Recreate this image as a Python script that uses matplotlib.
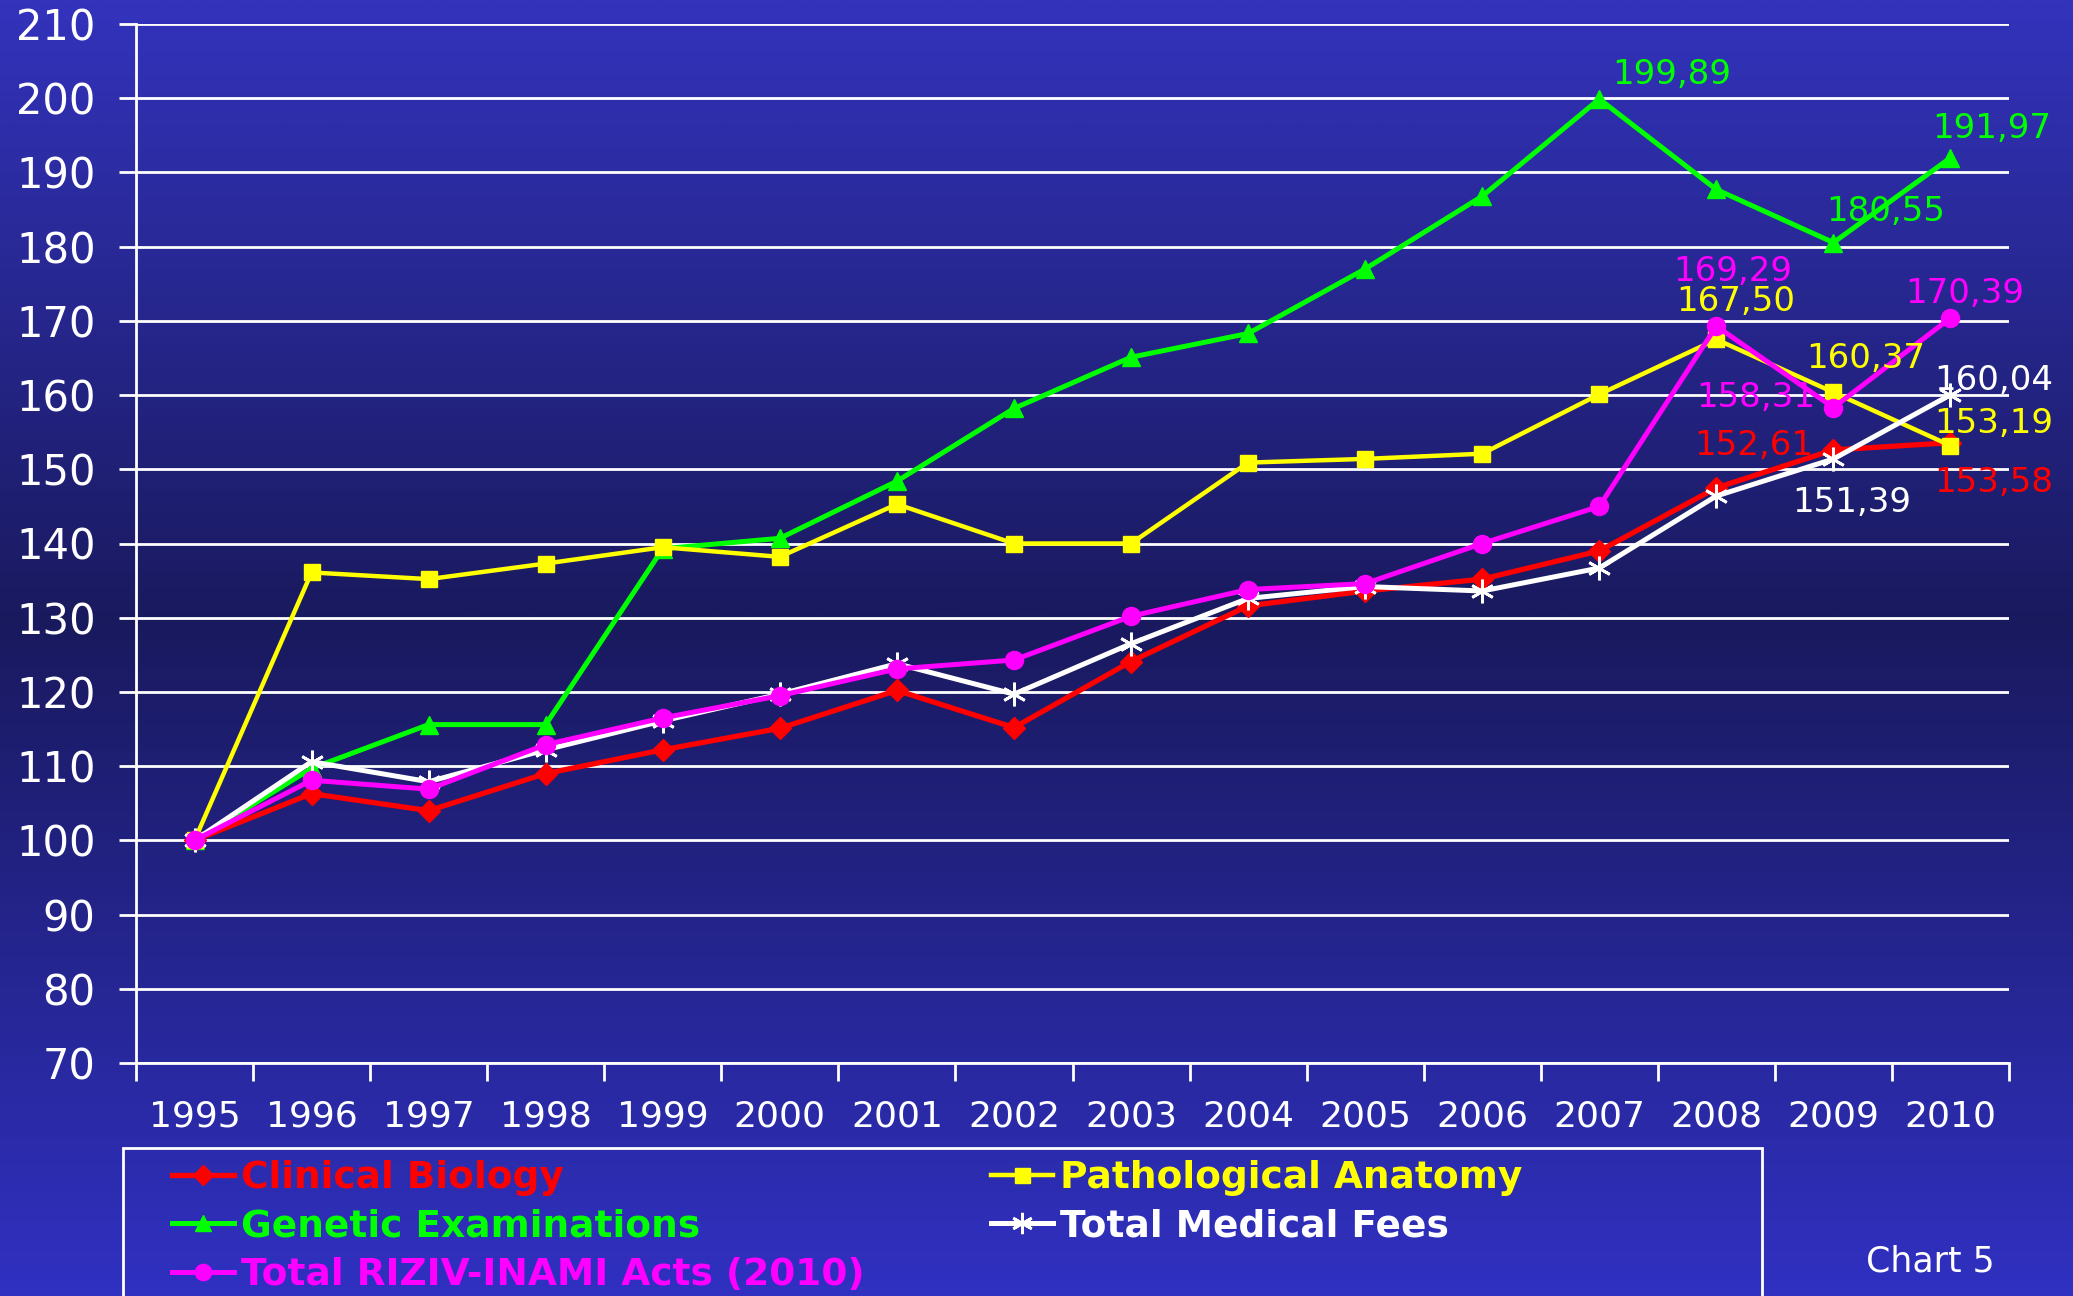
import numpy as np
import matplotlib
matplotlib.use("Agg")
import matplotlib.pyplot as plt
from matplotlib.colors import LinearSegmentedColormap
from matplotlib.patches import Rectangle

# data (index, 1995 = 100)
years = [str(y) for y in range(1995, 2011)]
clinical_biology = [100, 106.3, 104.0, 109.0, 112.2, 115.1, 120.2, 115.2, 124.1, 131.6,
                    133.6, 135.2, 139.0, 147.5, 152.61, 153.58]
pathological_anatomy = [100, 136.1, 135.2, 137.3, 139.5, 138.2, 145.3, 140.0, 140.0, 150.9,
                        151.4, 152.1, 160.1, 167.50, 160.37, 153.19]
genetic_exams = [100, 109.7, 115.6, 115.6, 139.3, 140.7, 148.4, 158.2, 165.1, 168.3,
                 177.0, 186.8, 199.89, 187.7, 180.55, 191.97]
total_medical_fees = [100, 110.6, 107.9, 112.2, 116.1, 119.7, 123.8, 119.7, 126.5, 132.6,
                      134.2, 133.6, 136.7, 146.4, 151.39, 160.04]
total_riziv = [100, 108.1, 106.9, 112.9, 116.5, 119.5, 123.1, 124.3, 130.2, 133.8,
               134.6, 140.0, 145.0, 169.29, 158.31, 170.39]
yticks = list(range(70, 211, 10))

W, H = 2073, 1296
fig = plt.figure(figsize=(W / 100, H / 100), dpi=100)

# background gradient
bg = fig.add_axes([0, 0, 1, 1], zorder=0)
cmap = LinearSegmentedColormap.from_list(
    "bg", [(0.0, (0.20, 0.20, 0.74)), (0.48, (0.10, 0.10, 0.37)), (1.0, (0.19, 0.19, 0.76))])
grad = np.linspace(0, 1, 512).reshape(-1, 1)
bg.imshow(grad, aspect="auto", cmap=cmap, extent=[0, 1, 0, 1], origin="upper")
bg.axis("off")

ax = fig.add_axes([136 / W, 1 - 1063 / H, (2009 - 136) / W, (1063 - 24) / H], zorder=1)
ax.set_facecolor("none")
x = np.arange(len(years))

series = [
    ("Clinical Biology", clinical_biology, "#ff0000", "D", 11, 3.8, {}),
    ("Genetic Examinations", genetic_exams, "#00ff00", "^", 13, 3.6, {}),
    ("Pathological Anatomy", pathological_anatomy, "#ffff00", "s", 12, 3.2, {}),
    ("Total Medical Fees", total_medical_fees, "#ffffff", (6, 2, 0), 17, 3.6, {"markeredgewidth": 2}),
    ("Total RIZIV-INAMI Acts (2010)", total_riziv, "#ff00ff", "o", 13, 3.6, {}),
]
handles = {}
for i, (name, vals, col, mk, ms, lw, extra) in enumerate(series):
    ln, = ax.plot(x, vals, color=col, lw=lw, marker=mk, markersize=ms,
                  markerfacecolor=col, markeredgecolor=col, zorder=3 + i, clip_on=False, **extra)
    handles[name] = ln

# value labels
labels = [
    (12, genetic_exams[12], "#00ff00", 0.62, 3.3),
    (15, genetic_exams[15], "#00ff00", 0.35, 3.9),
    (14, genetic_exams[14], "#00ff00", 0.45, 4.2),
    (13, total_riziv[13], "#ff00ff", 0.14, 7.4),
    (13, pathological_anatomy[13], "#ffff00", 0.17, 5.1),
    (15, total_riziv[15], "#ff00ff", 0.12, 3.3),
    (14, pathological_anatomy[14], "#ffff00", 0.28, 4.5),
    (14, total_riziv[14], "#ff00ff", -0.66, 1.3),
    (15, total_medical_fees[15], "#ffffff", 0.37, 1.9),
    (15, pathological_anatomy[15], "#ffff00", 0.37, 3.0),
    (14, clinical_biology[14], "#ff0000", -0.68, 0.6),
    (15, clinical_biology[15], "#ff0000", 0.37, -5.4),
    (14, total_medical_fees[14], "#ffffff", 0.16, -5.9),
]
for xi, v, col, dx, dy in labels:
    ax.text(xi + dx, v + dy, f"{v:.2f}".replace(".", ","), color=col, fontsize=24.5,
            ha="center", va="center", zorder=10)

ax.set_xlim(-0.5, len(years) - 0.5)
ax.set_ylim(70, 210)
ax.set_yticks(yticks)
ax.yaxis.grid(True, color="white", lw=2)
ax.set_axisbelow(True)
ax.set_xticks(np.arange(-0.5, len(years), 1))
ax.set_xticklabels([])
ax.set_xticks(x, minor=True)
ax.set_xticklabels(years, minor=True)
ax.tick_params(axis="x", which="major", length=13, width=2, color="white", direction="out")
ax.tick_params(axis="x", which="minor", length=0, pad=26, labelsize=26, labelcolor="white")
ax.tick_params(axis="y", length=12, width=2, color="white", pad=17, labelsize=30, labelcolor="white")
for s in ["top", "right"]:
    ax.spines[s].set_visible(False)
for s in ["left", "bottom"]:
    ax.spines[s].set_color("white")
    ax.spines[s].set_linewidth(2)

# legend box
fig.patches.append(Rectangle((123 / W, -0.1), (1762 - 123) / W, 0.1 + 1 - 1148 / H,
                             transform=fig.transFigure, fill=False, edgecolor="white", lw=2))
order = ["Clinical Biology", "Genetic Examinations", "Total RIZIV-INAMI Acts (2010)",
         "Pathological Anatomy", "Total Medical Fees"]
leg = fig.legend([handles[n] for n in order], order, loc="upper left",
                 bbox_to_anchor=(172 / W, 1 - 1160 / H), ncol=2, frameon=False,
                 prop={"family": "DejaVu Sans", "weight": "bold", "size": 27},
                 handlelength=1.65, handletextpad=0.2, labelspacing=0.33, columnspacing=3.35,
                 borderaxespad=0, borderpad=0, markerscale=0.9)
for t, n in zip(leg.get_texts(), order):
    t.set_color(handles[n].get_color())

fig.text(1930 / W, 1 - 1261 / H, "Chart 5", color="white", fontsize=25, ha="center", va="center")

fig.savefig("out.png", dpi=100)
